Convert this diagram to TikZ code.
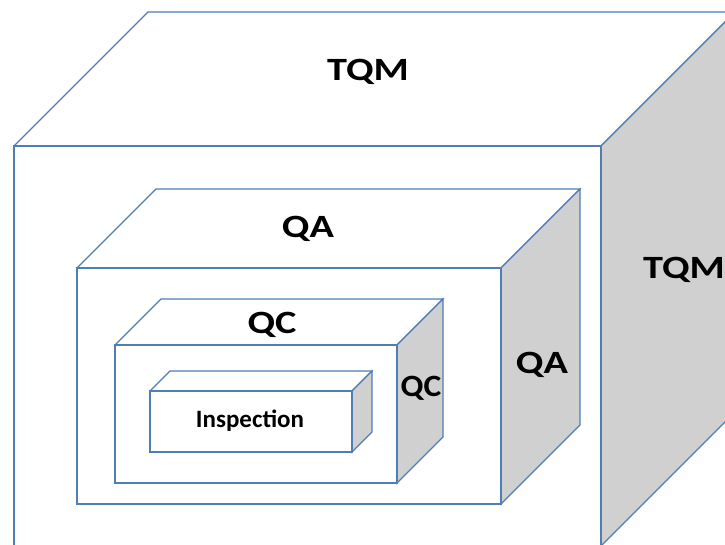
\documentclass[tikz,border=0pt]{standalone}
\usepackage{fontspec}
\newfontfamily\labelfont{Carlito}[FakeStretch=1.24]
\newfontfamily\narrowfont{Carlito}[FakeStretch=1.08]
\newfontfamily\plainfont{Carlito}
\definecolor{edgeblue}{RGB}{79,125,182}
\definecolor{sidegray}{RGB}{208,208,208}
% \boxthree{x1}{y1}{x2}{y2}{depth}: front face, top face and shaded right face
\newcommand\boxthree[5]{%
  \fill[white] (#1,#2) -- ++(#5,-#5) -- (#3+#5,#2-#5) -- (#3,#2) -- cycle;
  \draw[boxedge] (#1,#2) -- ++(#5,-#5) -- (#3+#5,#2-#5) -- (#3,#2);
  \filldraw[boxedge,fill=sidegray] (#3,#2) -- (#3+#5,#2-#5) -- (#3+#5,#4-#5) -- (#3,#4) -- cycle;
  \filldraw[boxedge,fill=white] (#1,#2) rectangle (#3,#4);
}
\tikzset{
  boxedge/.style={draw=edgeblue,line width=1.1pt,line join=miter},
  biglabel/.style={font=\labelfont\bfseries\fontsize{32.5}{32.5}\selectfont,inner sep=0pt},
  midlabel/.style={font=\narrowfont\bfseries\fontsize{31}{31}\selectfont,inner sep=0pt},
  smalllabel/.style={font=\plainfont\bfseries\fontsize{25}{25}\selectfont,inner sep=0pt}
}
\begin{document}
\begin{tikzpicture}[x=1pt,y=-1pt]
  \useasboundingbox (0,0) rectangle (725,544);
  \clip (0,0) rectangle (725,544);
  \fill[white] (0,0) rectangle (725,544);
  % nested boxes, outermost first
  \boxthree{14}{146}{601}{546}{134}
  \boxthree{77}{268}{501}{504}{79}
  \boxthree{115}{345}{397}{483}{46}
  \boxthree{150}{391}{352}{452}{20}
  % labels
  \node[biglabel] (tqmtop) at (368,72) {TQM};
  \node[biglabel] (tqmside) at (684,270) {TQM};
  \node[biglabel] (qatop) at (308,229) {QA};
  \node[biglabel] (qaside) at (542,365) {QA};
  \node[biglabel] (qctop) at (272,325) {QC};
  \node[midlabel] (qcside) at (421,388) {QC};
  \node[smalllabel] (insp) at (250,421) {Inspection};
\end{tikzpicture}
\end{document}
